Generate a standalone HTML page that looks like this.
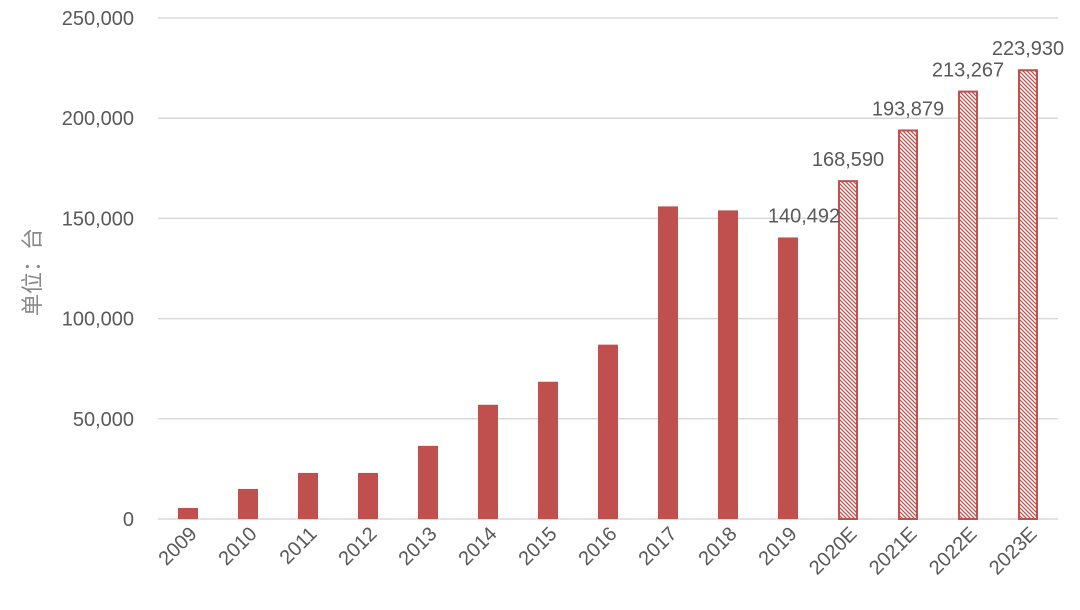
<!DOCTYPE html>
<html><head><meta charset="utf-8"><style>
body{margin:0;background:#fff;}
svg{display:block;font-family:"Liberation Sans","Noto Sans CJK SC",sans-serif;}
</style></head><body>
<svg id="chart" width="1080" height="610">
<defs>
<pattern id="hatch" patternUnits="userSpaceOnUse" width="4" height="4">
<rect width="4" height="4" fill="#fff"/>
<path d="M-1,-1 L5,5 M-1,3 L1,5 M3,-1 L5,1" stroke="#c0504d" stroke-width="1.3"/>
</pattern>
</defs>
<g id="grid"></g><g id="bars"></g><g id="labels"></g>
<text transform="translate(40,272) rotate(-90)" text-anchor="middle" font-size="22" fill="#888">单位：台</text>
</svg>
<script>
const categories=["2009","2010","2011","2012","2013","2014","2015","2016","2017","2018","2019","2020E","2021E","2022E","2023E"];
const values=[5500,15000,23000,23000,36500,57000,68500,87000,156000,154000,140492,168590,193879,213267,223930];
const forecast=[false,false,false,false,false,false,false,false,false,false,false,true,true,true,true];
const labeled=[false,false,false,false,false,false,false,false,false,false,true,true,true,true,true];
const yTicks=[0,50000,100000,150000,200000,250000];
const ns="http://www.w3.org/2000/svg";
const y=v=>519-v*(501/250000);
const x=i=>188+i*60;
function mk(t,a,p){const e=document.createElementNS(ns,t);for(const k in a)e.setAttribute(k,a[k]);p.appendChild(e);return e;}
const g=document.getElementById('grid'),b=document.getElementById('bars'),l=document.getElementById('labels');
yTicks.forEach(v=>{
const ln=mk('line',{x1:158,x2:1058,y1:y(v),y2:y(v),stroke:'#d9d9d9','stroke-width':1.5},g);


const t=mk('text',{x:134,y:y(v)+7,'text-anchor':'end','font-size':20,fill:'#595959'},g);
t.textContent=v.toLocaleString('en-US');


});
categories.forEach((c,i)=>{
const v=values[i];
let r;
if(forecast[i]){r=mk('rect',{x:x(i)-9,y:y(v),width:18,height:519-y(v),fill:'url(#hatch)',stroke:'#c0504d','stroke-width':2},b);}
else{r=mk('rect',{x:x(i)-10,y:y(v),width:20,height:519-y(v),fill:'#c0504d'},b);}


const t=mk('text',{transform:`translate(${x(i)+10},${535}) rotate(-45)`,'text-anchor':'end','font-size':20,fill:'#595959'},l);
t.textContent=c;


if(labeled[i]){
const dx=forecast[i]?0:16;
const vl=mk('text',{x:x(i)+dx,y:y(v)-15,'text-anchor':'middle','font-size':20,fill:'#595959'},l);
vl.textContent=v.toLocaleString('en-US');


}
});
</script>
</body></html>
